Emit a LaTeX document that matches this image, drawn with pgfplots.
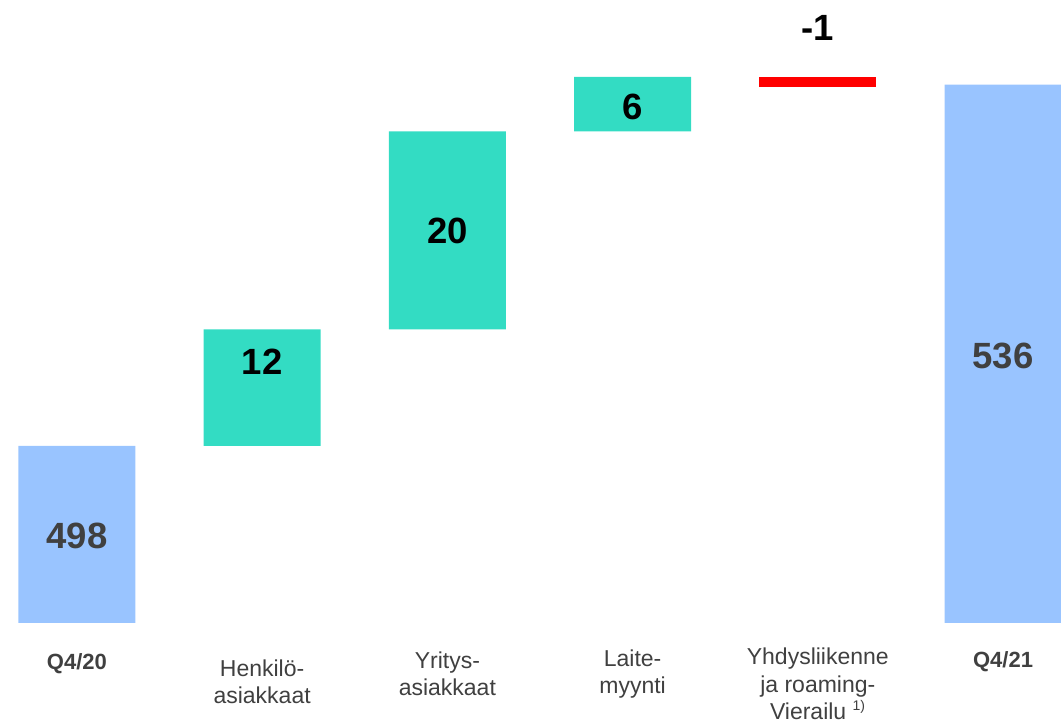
\documentclass[border=0pt]{standalone}
\usepackage{pgfplots}
\pgfplotsset{compat=1.18}
\usepackage{fontspec}
\setmainfont{Liberation Sans}
\definecolor{tblue}{HTML}{99C4FF}
\definecolor{tteal}{HTML}{33DCC3}
\definecolor{tred}{HTML}{FF0000}
\definecolor{tgray}{HTML}{404040}
\tikzset{vlab/.style={font=\fontsize{36.5}{40}\selectfont\bfseries},
  clab/.style={font=\fontsize{23}{27.5}\selectfont, text=tgray, align=center, anchor=center}}
\begin{document}
\begin{tikzpicture}
\path[use as bounding box] (0,0) rectangle (1061pt,724pt);
\begin{axis}[
  at={(18pt,101pt)}, anchor=south west,
  width=1043pt, height=623pt, scale only axis,
  xmin=-0.318, xmax=5.313,
  ymin=479.77, ymax=543.93,
  ybar stacked, bar width=0.632,
  axis lines=none,
  clip=true, clip mode=individual,
]
\addplot[draw=none, fill=white, fill opacity=0] coordinates {(0,0) (1,498) (2,510) (3,530.4) (4,535) (5,0)};
\addplot[draw=none, fill=tblue] coordinates {(0,498) (1,0) (2,0) (3,0) (4,0) (5,535.2)};
\addplot[draw=none, fill=tteal] coordinates {(0,0) (1,12) (2,20.4) (3,5.6) (4,0) (5,0)};
\addplot[draw=none, fill=tred] coordinates {(0,0) (1,0) (2,0) (3,0) (4,1) (5,0)};

\coordinate (v0) at (axis cs:0,488.7);
\coordinate (v1) at (axis cs:1,506.7);
\coordinate (v2) at (axis cs:2,520.1);
\coordinate (v3) at (axis cs:3,532.9);
\coordinate (v4) at (axis cs:4,541.1);
\coordinate (v5) at (axis cs:5,507.3);
\coordinate (b0) at (axis cs:0,479.77);
\coordinate (b1) at (axis cs:1,479.77);
\coordinate (b2) at (axis cs:2,479.77);
\coordinate (b3) at (axis cs:3,479.77);
\coordinate (b4) at (axis cs:4,479.77);
\coordinate (b5) at (axis cs:5,479.77);
\end{axis}
\node[vlab, text=tgray] at (v0) {498};
\node[vlab, text=black] at (v1) {12};
\node[vlab, text=black] at (v2) {20};
\node[vlab, text=black] at (v3) {6};
\node[vlab, text=black] at (v4) {-1};
\node[vlab, text=tgray] at (v5) {536};

\node[clab, font=\fontsize{22}{27.5}\selectfont\bfseries, yshift=-41pt] at (b0) {Q4/20};
\node[clab, yshift=-59pt] at (b1) {Henkilö-\\asiakkaat};
\node[clab, yshift=-51pt] at (b2) {Yritys-\\asiakkaat};
\node[clab, yshift=-51pt] at (b3) {Laite-\\myynti};
\node[clab, yshift=-61pt] at (b4) {Yhdysliikenne\\ja roaming-\\Vierailu \textsuperscript{\fontsize{14}{14}\selectfont 1)}};
\node[clab, font=\fontsize{22}{27.5}\selectfont\bfseries, yshift=-39pt] at (b5) {Q4/21};
\end{tikzpicture}
\end{document}
